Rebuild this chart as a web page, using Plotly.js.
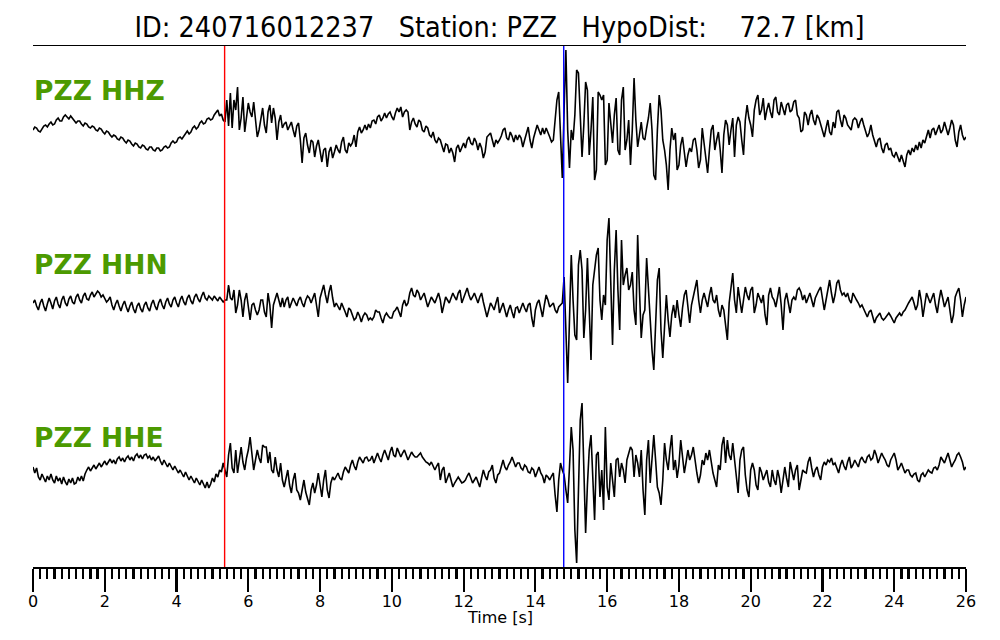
<!DOCTYPE html>
<html>
<head>
<meta charset="utf-8">
<script src="https://cdn.plot.ly/plotly-3.0.1.min.js"></script>
<style>html,body{margin:0;padding:0;background:#fff;}#chart{width:1000px;height:640px;}</style>
</head>
<body>
<div id="chart"></div>
<script>
// ---- data ----
const eventId = "240716012237";
const station = "PZZ";
const hypoDistKm = 72.7;
const channels = ["HHZ", "HHN", "HHE"];
const sampleInterval = 0.05;   // s
const pickP = [5.34];          // red marker (s)
const pickS = [14.79];         // blue marker (s)

const ampHHZ = [
0,3,2,-1,-2,1,4,5,3,6,8,5,6,10,12,9,9,13,15,13,
11,14,12,10,7,9,9,6,4,7,6,3,2,4,3,0,-1,2,1,-2,
-4,-1,-2,-5,-7,-5,-6,-9,-10,-7,-8,-11,-13,-10,-11,-14,-16,-13,-14,-17,
-18,-15,-16,-19,-20,-17,-17,-20,-21,-18,-18,-21,-20,-17,-16,-18,-17,-13,-11,-13,
-12,-8,-7,-9,-6,-3,-1,-4,-2,2,4,1,3,7,9,6,7,11,12,10,
11,15,17,20,14,16,10,8,30,4,37,2,30,20,43,0,12,33,-2,15,
27,18,13,28,10,-7,0,12,22,5,-3,18,25,7,22,12,-10,8,15,2,
6,8,0,4,8,0,-7,4,7,-10,-33,-8,-3,-15,-23,-10,-12,-27,-16,-10,
-22,-32,-20,-18,-37,-22,-17,-28,-22,-15,-20,-23,-12,-7,-20,-23,-13,-16,-13,-5,
-17,-2,3,-3,0,5,0,6,2,9,10,6,13,15,9,12,17,12,16,18,
13,10,17,22,18,23,13,18,20,18,0,8,12,6,3,10,8,0,-2,4,
2,-5,-7,-2,-10,-13,-8,-10,-16,-22,-14,-15,-23,-18,-23,-32,-18,-15,-22,-17,
-13,-18,-10,-7,-13,-15,-8,-12,-20,-13,-18,-28,-22,-7,-5,-3,-10,-17,-10,-13,
-10,-6,0,2,-8,-10,-2,-6,-12,-5,-10,-5,-8,-17,-10,-2,3,-10,-18,-8,
-2,5,0,-5,2,-4,2,-2,-7,-12,-10,10,30,38,-10,-48,20,80,0,-38,
0,-10,15,60,57,10,-27,5,48,40,-25,0,33,-50,-40,38,35,30,35,-35,
-30,27,5,-13,15,32,-20,-25,30,43,-20,-10,10,-35,0,52,10,-17,-5,8,
-8,-10,2,12,27,0,-45,-50,0,35,20,-10,-20,-35,-60,-20,2,-10,-3,-40,
-35,-15,-7,-20,-37,-25,-18,-22,-10,-8,-20,-38,-30,2,-15,-30,-43,-20,0,5,
-20,-10,-2,-20,-43,-5,10,5,-15,0,12,-27,5,13,8,-10,-25,10,25,12,
5,-7,20,30,35,15,20,32,10,20,27,18,12,30,33,18,15,28,22,15,
25,27,18,20,28,30,15,12,-2,0,18,15,5,15,20,10,5,15,12,5,
0,-7,2,10,-2,-5,8,2,18,20,10,3,15,12,5,2,0,10,12,10,
2,8,12,5,0,-7,-3,5,-5,-10,-17,-10,-8,-18,-23,-15,-13,-20,-18,-25,
-27,-22,-28,-32,-25,-30,-37,-25,-20,-25,-18,-22,-15,-20,-12,-18,-10,-13,-5,0,
-8,0,2,-5,0,5,-3,0,8,2,-5,2,10,5,-10,-17,-2,5,-5,-10,
-7];

const ampHHN = [
2,5,-1,-5,2,6,-1,-6,1,7,2,-4,4,8,1,-3,5,9,2,-1,
6,9,3,1,8,11,5,2,9,12,6,5,10,13,8,11,14,12,8,10,
7,3,5,8,0,-5,1,5,-1,-6,0,4,-2,-7,-1,3,-4,-8,-1,2,
-4,-7,0,3,-3,-6,1,5,-1,-5,2,6,0,-4,3,7,1,-2,5,8,
2,-2,5,9,3,0,7,10,4,1,8,11,6,3,9,13,7,5,9,7,
5,9,6,4,8,6,3,5,5,20,7,5,15,-8,0,15,5,-12,5,12,
-5,-15,0,2,-5,-10,-5,5,5,-7,-12,12,0,-23,0,7,12,5,-2,7,
-2,5,8,-3,2,7,3,-1,5,8,2,-2,5,9,7,2,7,12,0,-12,
7,15,20,10,2,13,20,7,-2,2,-1,-5,2,-2,-7,-12,-3,-5,-11,-15,
-13,-7,-11,-17,-11,-8,-10,-15,-13,-15,-12,-5,-7,-7,-13,-18,-11,-8,-11,-13,
-13,-7,-5,-2,-7,-12,0,5,-1,2,12,17,10,8,15,12,5,9,12,5,
-2,3,8,5,2,7,12,5,-8,0,8,5,2,7,12,8,5,12,15,2,
7,12,17,10,5,8,12,7,2,8,12,3,-5,-12,-5,2,-1,-5,2,8,
-8,-3,2,-5,-12,-5,0,-7,-13,-3,-2,-8,-3,2,-3,-7,0,2,-13,-22,
-5,2,5,-3,-12,0,10,5,-2,0,2,-5,-8,-2,0,2,28,-25,-78,-15,
50,5,-30,-35,40,55,35,-33,-5,47,-15,-55,20,35,50,57,5,-15,10,0,
65,87,25,-40,35,75,15,-25,65,20,30,37,15,20,33,-5,-20,70,15,-33,
-10,-5,47,15,-25,-45,-65,-25,25,37,-25,-53,-15,10,-15,-32,-10,0,-13,5,
-10,-22,-3,10,15,-5,-18,0,8,15,25,5,-8,5,12,5,-2,10,18,5,
2,10,-5,-12,0,-5,-20,-35,2,20,32,5,-8,18,5,-8,5,18,10,5,
15,18,-8,0,12,7,2,10,-10,-20,10,17,8,5,-2,8,18,0,-25,5,
12,2,-8,5,8,5,15,17,13,5,10,2,7,12,5,-2,7,12,15,18,
5,-5,5,15,25,12,2,10,22,25,15,10,12,8,12,5,2,12,8,5,
2,-2,0,-5,-8,-12,-7,-5,-11,-18,-13,-10,-8,-13,-15,-13,-10,-8,-11,-15,
-18,-13,-10,-8,-11,-7,-5,-1,2,5,8,2,-5,0,15,5,-12,0,12,7,
2,7,12,0,-8,5,15,7,-2,3,8,-5,-18,-10,8,13,17,5,-12,0,
8];

const ampHHE = [
6,0,5,-4,-7,-1,-5,-9,-3,-7,-1,-7,-10,-3,-8,-5,-11,-4,-9,-12,
-6,-10,-5,-11,-10,-4,-8,-3,-8,-1,3,6,2,5,8,4,7,10,6,9,
12,8,11,14,10,13,9,14,16,12,15,11,15,17,13,16,12,17,19,15,
18,14,18,19,15,17,13,16,12,15,17,12,8,13,10,6,10,7,3,7,
4,0,3,-1,-4,1,-3,-7,-3,-6,-10,-5,-9,-12,-7,-11,-15,-9,-15,-11,
-5,-9,-1,-4,3,1,10,3,-4,18,30,5,0,23,0,13,26,11,3,15,
23,36,18,3,13,23,15,10,28,26,26,10,21,3,0,16,3,-4,10,-7,
-14,-5,3,-12,-20,-7,0,-17,-20,-27,-15,-7,-19,-27,-32,-17,-10,-20,-12,0,
-12,-24,-7,3,-17,-25,-10,-4,-7,-3,0,-5,-7,1,6,3,0,8,13,7,
3,11,16,13,10,15,16,12,13,17,10,15,20,15,11,18,23,18,13,21,
26,18,16,25,21,16,20,23,18,13,17,21,18,16,16,18,20,16,13,11,
10,8,11,6,3,7,10,-7,3,6,-10,-5,0,-7,-14,-10,-7,-4,-7,-10,
-9,-7,-3,0,-5,-10,-7,-4,-9,-14,-5,3,-3,-7,1,3,8,-5,-10,-2,
0,7,13,6,3,8,11,16,11,6,10,10,5,3,8,6,1,0,5,3,
-4,1,6,0,-3,-10,-2,-4,-7,-3,0,-22,-39,-7,10,3,-2,-17,-30,6,
46,23,-57,-90,-17,53,70,3,-60,-12,23,38,-7,-47,18,21,-24,3,-37,46,
-14,-27,10,-7,-24,13,15,-4,10,3,-10,13,21,26,23,-4,18,10,-4,23,
-17,-42,13,33,-10,18,38,13,-14,-20,-32,-7,30,13,3,23,38,3,13,-5,
8,33,18,0,11,23,13,18,26,11,0,-10,-2,13,8,20,13,23,10,0,
-7,-14,8,3,28,36,10,33,18,13,30,13,-2,-20,13,23,26,-2,-17,-24,
3,10,3,-12,-17,6,1,-7,-2,3,-9,-14,3,-7,-12,3,-5,-20,-7,6,
-5,-14,11,3,-7,3,8,-17,-7,3,1,0,11,16,5,-4,3,6,-2,-7,
6,11,8,13,11,15,8,10,5,0,8,13,7,3,11,16,5,8,13,9,
6,13,16,12,10,16,18,13,15,23,18,10,15,20,16,13,8,6,13,16,
20,13,3,6,10,5,0,3,3,-2,-4,-1,0,-7,-9,-2,0,-4,-1,3,
1,0,5,6,3,8,16,13,10,15,20,13,6,10,13,18,20,16,11,3,
6];

// ---- layout parameters (positions / styles) ----
const traceBase = [-130, -305, -473];     // vertical placement of each channel
const labelY = [-90, -264, -437];
const green = "#4c9a00";

const amps = [ampHHZ, ampHHN, ampHHE];
const traces = amps.map((a, k) => ({
  type: "scatter",
  mode: "lines",
  x: a.map((_, i) => i * sampleInterval),
  y: a.map(v => v + traceBase[k]),
  line: {color: "#000", width: 1.6},
  hoverinfo: "skip",
  showlegend: false
}));

const shapes = [];
pickP.forEach(t => shapes.push({type: "line", xref: "x", yref: "paper", x0: t, x1: t, y0: 0, y1: 1, line: {color: "#ff0000", width: 1.4}}));
pickS.forEach(t => shapes.push({type: "line", xref: "x", yref: "paper", x0: t, x1: t, y0: 0, y1: 1, line: {color: "#0000ff", width: 1.4}}));

const annotations = channels.map((c, k) => ({
  text: station + " " + c,
  xref: "paper", x: 0, xanchor: "left", xshift: -1,
  yref: "y", y: labelY[k], yanchor: "middle",
  showarrow: false,
  font: {family: "DejaVu Sans", size: 26.5, color: green, weight: "bold"}
}));
annotations.push({
  text: "Time [s]",
  xref: "paper", x: 0.5, xanchor: "center",
  yref: "paper", y: -(617 - 567) / 521, yanchor: "middle",
  showarrow: false,
  font: {family: "DejaVu Sans", size: 16, color: "#000"}
});

const nb = "\u00a0";
const titleText = "ID: " + eventId + nb.repeat(3) + "Station: " + station + nb.repeat(3) +
  "HypoDist:" + nb.repeat(4) + hypoDistKm.toFixed(1) + " [km]";

const layout = {
  width: 1000, height: 640,
  margin: {l: 33, r: 34, t: 46, b: 73},
  paper_bgcolor: "#fff", plot_bgcolor: "#fff",
  showlegend: false,
  title: {
    text: titleText,
    font: {family: "DejaVu Sans Condensed, Liberation Sans Narrow, DejaVu Sans", size: 28.5, color: "#000"},
    x: 0.5, xref: "paper", xanchor: "center",
    y: 1 - 27 / 640, yref: "container", yanchor: "middle"
  },
  xaxis: {
    range: [0, 26], showgrid: false, zeroline: false,
    showline: true, mirror: true, linecolor: "#000", linewidth: 1.5,
    ticks: "outside", ticklen: 23, tickwidth: 2.2, tickcolor: "#000",
    tick0: 0, dtick: 2,
    ticklabelstandoff: -4,
    tickfont: {family: "DejaVu Sans", size: 16, color: "#000"},
    minor: {ticks: "outside", dtick: 0.2, tick0: 0, ticklen: 10, tickwidth: 2.2, tickcolor: "#000", showgrid: false},
    fixedrange: true
  },
  yaxis: {range: [-567, -46], visible: false, showgrid: false, zeroline: false, fixedrange: true},
  shapes: shapes,
  annotations: annotations
};

Plotly.newPlot("chart", traces, layout, {displayModeBar: false, staticPlot: true});
</script>
</body>
</html>
